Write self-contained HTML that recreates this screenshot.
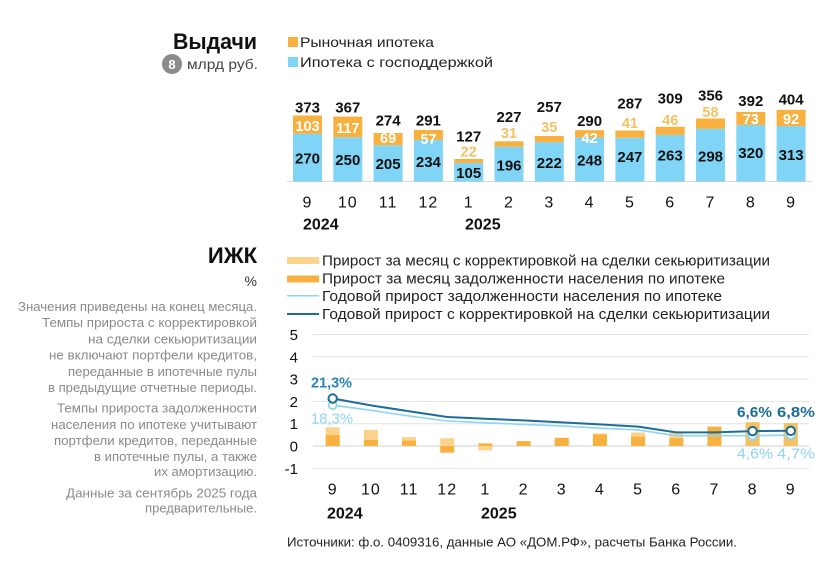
<!DOCTYPE html>
<html><head><meta charset="utf-8"><style>
html,body{margin:0;padding:0;background:#fff;}
svg{display:block;font-family:"Liberation Sans",sans-serif;}
</style></head><body>
<svg width="826" height="565" viewBox="0 0 826 565" xmlns="http://www.w3.org/2000/svg">
<!-- TOP -->
<text x="173" y="49" font-size="22" font-weight="bold" fill="#111" textLength="84" lengthAdjust="spacingAndGlyphs">Выдачи</text>
<circle cx="172" cy="64" r="10" fill="#8c8c8c"/>
<text x="172" y="69" font-size="13" font-weight="bold" fill="#fff" text-anchor="middle">8</text>
<text x="187" y="69" font-size="14" fill="#444" textLength="71" lengthAdjust="spacingAndGlyphs">млрд руб.</text>
<rect x="288" y="37" width="10" height="10" fill="#f8b13e"/>
<text x="300" y="47" font-size="14" fill="#222" textLength="134" lengthAdjust="spacingAndGlyphs">Рыночная ипотека</text>
<rect x="288" y="57" width="10" height="10" fill="#80d4f6"/>
<text x="300" y="67" font-size="14" fill="#222" textLength="193" lengthAdjust="spacingAndGlyphs">Ипотека с господдержкой</text>
<line x1="287" y1="181.5" x2="812" y2="181.5" stroke="#d8d8d8" stroke-width="1"/>
<g id="topbars"></g>
<!-- BOTTOM -->
<text x="257" y="263" font-size="22" font-weight="bold" fill="#111" text-anchor="end">ИЖК</text>
<text x="257" y="286" font-size="14" fill="#333" text-anchor="end">%</text>
<g font-size="12.5" fill="#8a8a8a" text-anchor="end">
<text x="257" y="311" textLength="239" lengthAdjust="spacingAndGlyphs">Значения приведены на конец месяца.</text>
<text x="257" y="327" textLength="215" lengthAdjust="spacingAndGlyphs">Темпы прироста с корректировкой</text>
<text x="257" y="343.5" textLength="169" lengthAdjust="spacingAndGlyphs">на сделки секьюритизации</text>
<text x="257" y="359.5" textLength="208" lengthAdjust="spacingAndGlyphs">не включают портфели кредитов,</text>
<text x="257" y="376" textLength="189" lengthAdjust="spacingAndGlyphs">переданные в ипотечные пулы</text>
<text x="257" y="392" textLength="209" lengthAdjust="spacingAndGlyphs">в предыдущие отчетные периоды.</text>
<text x="257" y="412.5" textLength="200" lengthAdjust="spacingAndGlyphs">Темпы прироста задолженности</text>
<text x="257" y="429" textLength="206" lengthAdjust="spacingAndGlyphs">населения по ипотеке учитывают</text>
<text x="257" y="445" textLength="203" lengthAdjust="spacingAndGlyphs">портфели кредитов, переданные</text>
<text x="257" y="461" textLength="163" lengthAdjust="spacingAndGlyphs">в ипотечные пулы, а также</text>
<text x="257" y="476" textLength="103" lengthAdjust="spacingAndGlyphs">их амортизацию.</text>
<text x="257" y="497.5" textLength="191" lengthAdjust="spacingAndGlyphs">Данные за сентябрь 2025 года</text>
<text x="257" y="512.5" textLength="112" lengthAdjust="spacingAndGlyphs">предварительные.</text>
</g>
<rect x="287" y="257" width="32" height="7" fill="#fcd38c"/>
<text x="322" y="265.5" font-size="15" fill="#222" textLength="448" lengthAdjust="spacingAndGlyphs">Прирост за месяц с корректировкой на сделки секьюритизации</text>
<rect x="287" y="275.5" width="32" height="7" fill="#f8b13e"/>
<text x="322" y="283.5" font-size="15" fill="#222" textLength="403" lengthAdjust="spacingAndGlyphs">Прирост за месяц задолженности населения по ипотеке</text>
<line x1="287" y1="295.7" x2="319" y2="295.7" stroke="#8fd4f2" stroke-width="1.5"/>
<text x="322" y="301" font-size="15" fill="#222" textLength="400" lengthAdjust="spacingAndGlyphs">Годовой прирост задолженности населения по ипотеке</text>
<line x1="287" y1="314" x2="319" y2="314" stroke="#1d6d98" stroke-width="2"/>
<text x="322" y="319" font-size="15" fill="#222" textLength="448" lengthAdjust="spacingAndGlyphs">Годовой прирост с корректировкой на сделки секьюритизации</text>
<g id="bottom"></g>
<text x="287" y="546.5" font-size="13" fill="#222" textLength="450" lengthAdjust="spacingAndGlyphs">Источники: ф.о. 0409316, данные АО «ДОМ.РФ», расчеты Банка России.</text>
</svg>
<script>
(function(){
var NS="http://www.w3.org/2000/svg";
function el(p,t,a,txt){var e=document.createElementNS(NS,t);for(var k in a)e.setAttribute(k,a[k]);if(txt!==undefined)e.textContent=txt;p.appendChild(e);return e;}
var tb=document.getElementById("topbars");
var d=[[270,103,373,107,126,1,158],[250,117,367,107,128,1,159.3],[205,69,274,120,138,1,163.3],[234,57,291,120,139,1,161.7],[105,22,127,136,151.7,0,172.7],[196,31,227,116.7,133,0,165],[222,35,257,106.7,127,0,162.3],[248,42,290,120.7,138,1,160],[247,41,287,103,123,0,156.7],[263,46,309,98,120,0,155],[298,58,356,95,112,0,156],[320,73,392,100.7,119,1,152.7],[313,92,404,99,119,1,154.3]];
var s=0.177,b=181.5;
var months=["9","10","11","12","1","2","3","4","5","6","7","8","9"];
d.forEach(function(r,i){
 var cx=307.5+40.3*i;
 var hb=r[0]*s,ho=r[1]*s;
 el(tb,"rect",{x:cx-14.5,y:b-hb,width:29,height:hb,fill:"#80d4f6"});
 el(tb,"rect",{x:cx-14.5,y:b-hb-ho,width:29,height:ho,fill:"#f8b13e"});
 el(tb,"text",{x:cx,y:r[3]+5.5,"font-size":15,"font-weight":"bold",fill:"#111","text-anchor":"middle"},String(r[2]));
 el(tb,"text",{x:cx,y:r[4]+5,"font-size":14.5,"font-weight":"bold",fill:r[5]?"#fff":"#f3c262","text-anchor":"middle"},String(r[1]));
 el(tb,"text",{x:cx,y:r[6]+5.5,"font-size":15,"font-weight":"bold",fill:"#111","text-anchor":"middle"},String(r[0]));
 el(tb,"text",{x:cx,y:207.5,"font-size":16,fill:"#111","text-anchor":"middle","letter-spacing":"1"},months[i]);
});
el(tb,"text",{x:303,y:229.5,"font-size":16,"font-weight":"bold",fill:"#111"},"2024");
el(tb,"text",{x:465,y:229.5,"font-size":16,"font-weight":"bold",fill:"#111"},"2025");

var g=document.getElementById("bottom");
function Y(v){return 446-22.3*v;}
for(var v=-1;v<=5;v++){
 el(g,"line",{x1:313,y1:Y(v),x2:809,y2:Y(v),stroke:v===0?"#d0d0d0":"#e3e3e3","stroke-width":1});
 el(g,"text",{x:298,y:Y(v)+5.5,"font-size":15,fill:"#111","text-anchor":"end"},String(v));
}
var L=[0.84,0.72,0.4,0.35,-0.2,0.2,0.35,0.56,0.61,0.61,0.87,1.07,1.03];
var D=[0.49,0.27,0.24,-0.3,0.12,0.22,0.37,0.52,0.42,0.35,0.87,0.6,0.6];
function X(i){return 332.7+38.17*i;}
for(var i=0;i<13;i++){
 var x=X(i)-7;
 var lc=(i>=11)?"#f6c064":"#fcd38c";
 var dc=(i>=11)?"#f6c064":"#f8b13e";
 var lv=L[i],dv=D[i];
 el(g,"rect",{x:x,y:Math.min(Y(lv),Y(0)),width:14,height:Math.abs(22.3*lv),fill:lc});
 el(g,"rect",{x:x,y:Math.min(Y(dv),Y(0)),width:14,height:Math.abs(22.3*dv),fill:dc});
 el(g,"text",{x:X(i),y:494.5,"font-size":16,fill:"#111","text-anchor":"middle","letter-spacing":"1"},months[i]);
}
var dark=[2.13,1.82,1.56,1.3,1.22,1.15,1.06,0.97,0.87,0.61,0.61,0.67,0.68];
var light=[1.83,1.6,1.35,1.12,1.04,0.97,0.9,0.8,0.72,0.46,0.46,0.46,0.49];
function pts(a){return a.map(function(v,i){return X(i).toFixed(1)+","+Y(v).toFixed(1);}).join(" ");}
el(g,"polyline",{points:pts(light),fill:"none",stroke:"#8fd4f2","stroke-width":1.6});
el(g,"polyline",{points:pts(dark),fill:"none",stroke:"#1d6d98","stroke-width":2});
[0,11,12].forEach(function(i){
 el(g,"circle",{cx:X(i),cy:Y(light[i]),r:4,fill:"#fff",stroke:"#8fd4f2","stroke-width":1.8});
 el(g,"circle",{cx:X(i),cy:Y(dark[i]),r:4.2,fill:"#fff",stroke:"#1d6d98","stroke-width":2});
});
el(g,"text",{x:311,y:387.5,"font-size":15,"font-weight":"bold",fill:"#2a85b5",textLength:41,lengthAdjust:"spacingAndGlyphs"},"21,3%");
el(g,"text",{x:311,y:423.5,"font-size":15,fill:"#8fd4f2",textLength:42,lengthAdjust:"spacingAndGlyphs"},"18,3%");
el(g,"text",{x:737,y:417,"font-size":15,"font-weight":"bold",fill:"#1d6d98",textLength:35,lengthAdjust:"spacingAndGlyphs"},"6,6%");
el(g,"text",{x:777,y:417,"font-size":15,"font-weight":"bold",fill:"#1d6d98",textLength:38,lengthAdjust:"spacingAndGlyphs"},"6,8%");
el(g,"text",{x:737,y:458.5,"font-size":15,fill:"#8fd4f2",textLength:36,lengthAdjust:"spacingAndGlyphs"},"4,6%");
el(g,"text",{x:777,y:458.5,"font-size":15,fill:"#8fd4f2",textLength:38,lengthAdjust:"spacingAndGlyphs"},"4,7%");
el(g,"text",{x:327,y:518.5,"font-size":16,"font-weight":"bold",fill:"#111"},"2024");
el(g,"text",{x:481,y:518.5,"font-size":16,"font-weight":"bold",fill:"#111"},"2025");
})();
</script>
</body></html>
